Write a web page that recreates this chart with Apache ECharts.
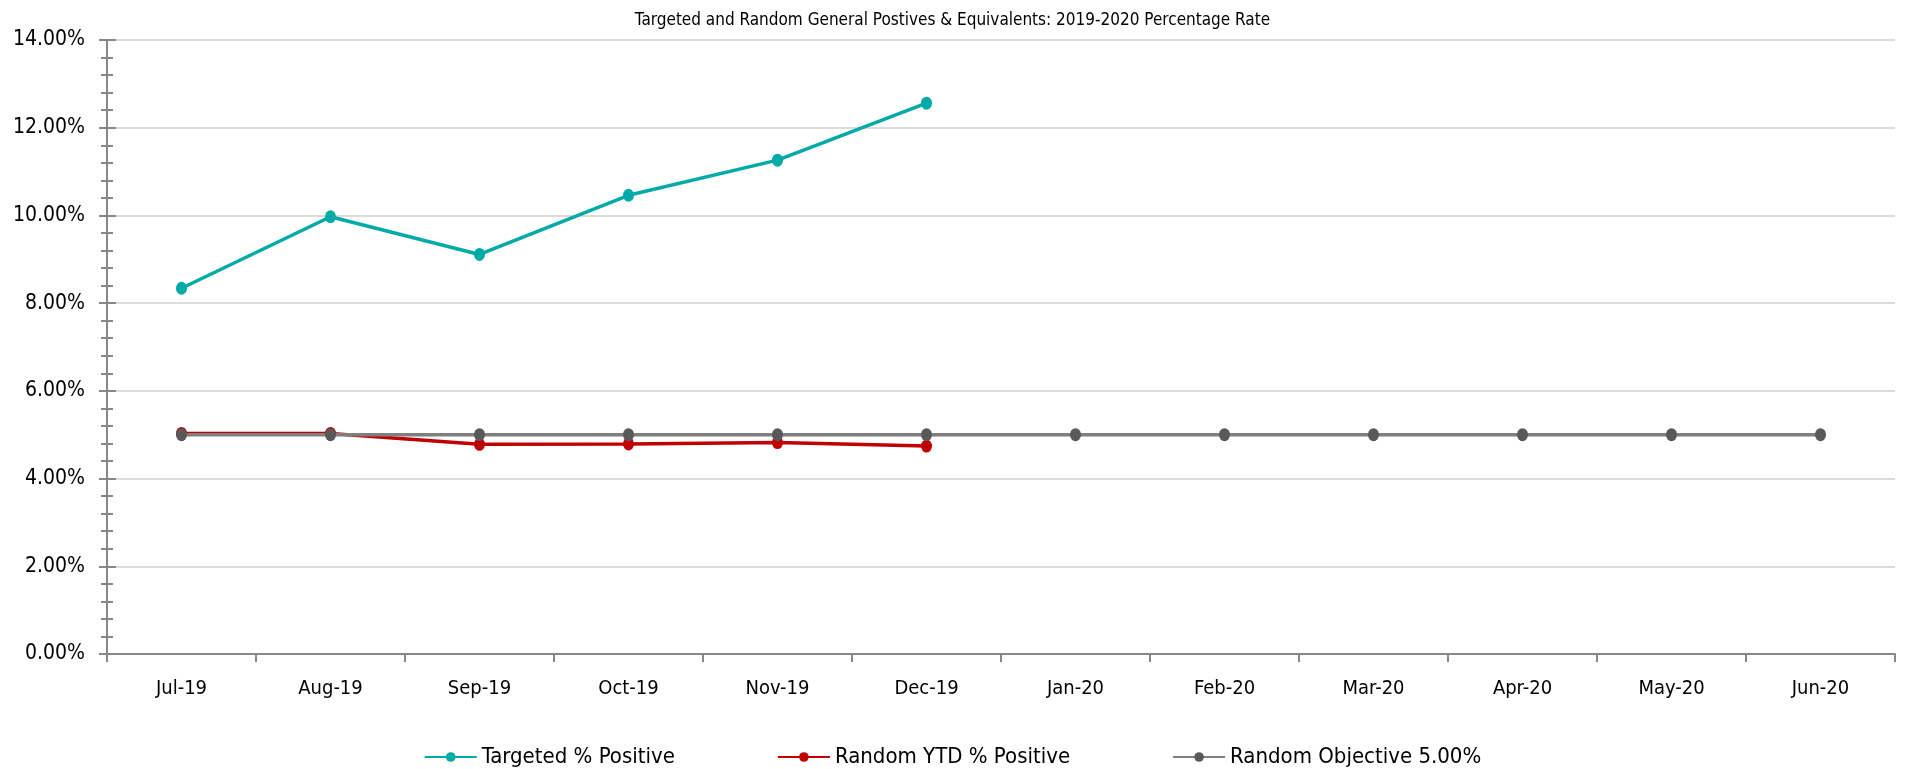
<!DOCTYPE html>
<html>
<head>
<meta charset="utf-8">
<script src="https://cdn.jsdelivr.net/npm/echarts@6/dist/echarts.min.js"></script>
<style>html,body{margin:0;padding:0;background:#fff}#c{width:1905px;height:769px}</style>
</head>
<body>
<div id="c"></div>
<script>
const categories = ['Jul-19','Aug-19','Sep-19','Oct-19','Nov-19','Dec-19','Jan-20','Feb-20','Mar-20','Apr-20','May-20','Jun-20'];
const targeted = [8.34, 9.97, 9.11, 10.46, 11.26, 12.56];
const randomYTD = [5.03, 5.03, 4.78, 4.79, 4.82, 4.74];
const objective = [5, 5, 5, 5, 5, 5, 5, 5, 5, 5, 5, 5];
const seriesNames = ['Targeted % Positive', 'Random YTD % Positive', 'Random Objective 5.00%'];
const titleText = 'Targeted and Random General Postives & Equivalents: 2019-2020 Percentage Rate';

const FONT = '"Liberation Sans Narrow", "DejaVu Sans Condensed", "Liberation Sans", sans-serif';
const chart = echarts.init(document.getElementById('c'));
const yBase = { type: 'value', min: 0, max: 14, interval: 2 };
chart.setOption({
  animation: false,
  textStyle: { fontFamily: FONT },
  title: { text: titleText, left: 'center', top: 7,
    textStyle: { fontFamily: FONT, fontSize: 17, fontWeight: 'normal', color: '#000' } },
  grid: { left: 107, right: 10, top: 40, bottom: 115 },
  legend: {
    top: 741, left: 'center', itemWidth: 52, itemHeight: 12, itemGap: 102,
    textStyle: { fontFamily: FONT, fontSize: 22, color: '#000' },
    data: seriesNames
  },
  xAxis: {
    type: 'category', data: categories, boundaryGap: true,
    axisLine: { lineStyle: { color: '#888', width: 2 } },
    axisTick: { show: true, alignWithLabel: false, length: 8, lineStyle: { color: '#888', width: 2 } },
    axisLabel: { fontFamily: FONT, fontSize: 20, color: '#000', margin: 25 }
  },
  yAxis: [
    Object.assign({}, yBase, {
      axisLine: { show: true, lineStyle: { color: '#888', width: 2 } },
      axisTick: { show: true, length: 8, lineStyle: { color: '#888', width: 2 } },
      minorTick: { show: true, splitNumber: 5, length: 6, lineStyle: { color: '#888', width: 2 } },
      splitLine: { show: true, lineStyle: { color: '#dcdcdc', width: 2 } },
      axisLabel: { fontFamily: FONT, fontSize: 21, color: '#000', margin: 22,
        formatter: v => v.toFixed(2) + '%' }
    }),
    Object.assign({}, yBase, {
      position: 'left',
      axisLine: { show: false },
      axisTick: { show: true, inside: true, length: 9, lineStyle: { color: '#888', width: 2 } },
      minorTick: { show: true, splitNumber: 5, length: 6, lineStyle: { color: '#888', width: 2 } },
      splitLine: { show: false },
      axisLabel: { show: false }
    })
  ],
  series: [
    { name: seriesNames[0], type: 'line', data: targeted, symbol: 'circle', symbolSize: [11, 13],
      lineStyle: { color: '#00AAA6', width: 3.5 }, itemStyle: { color: '#00AAA6' }, z: 4 },
    { name: seriesNames[1], type: 'line', data: randomYTD, symbol: 'circle', symbolSize: [11, 13],
      lineStyle: { color: '#C00000', width: 3.5 }, itemStyle: { color: '#C00000' }, z: 2 },
    { name: seriesNames[2], type: 'line', data: objective, symbol: 'circle', symbolSize: [11, 13],
      lineStyle: { color: '#7f7f7f', width: 3.5 }, itemStyle: { color: '#595959' }, z: 3 }
  ]
});
</script>
</body>
</html>
